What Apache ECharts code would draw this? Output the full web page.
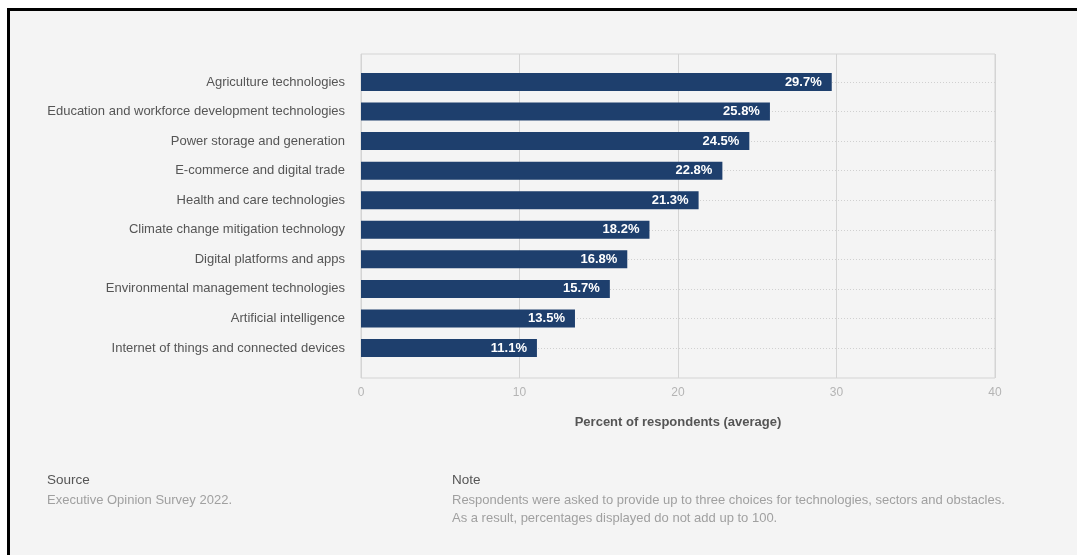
<!DOCTYPE html>
<html>
<head>
<meta charset="utf-8">
<script src="https://cdn.jsdelivr.net/npm/echarts@6/dist/echarts.min.js"></script>
<style>
  html, body { margin: 0; padding: 0; background: #ffffff; }
  #frame {
    position: absolute; left: 7px; top: 8px; width: 1070px; height: 547px;
    border-top: 3px solid #000; border-left: 3px solid #000;
    background: #f4f4f4; box-sizing: border-box;
  }
  #chart { position: absolute; left: 0; top: 0; width: 1077px; height: 555px; }
</style>
</head>
<body>
<div id="frame"></div>
<div id="chart"></div>
<script>
// Technologies ranked by share of respondents
const categories = [
  'Agriculture technologies',
  'Education and workforce development technologies',
  'Power storage and generation',
  'E-commerce and digital trade',
  'Health and care technologies',
  'Climate change mitigation technology',
  'Digital platforms and apps',
  'Environmental management technologies',
  'Artificial intelligence',
  'Internet of things and connected devices'
];
const values = [29.7, 25.8, 24.5, 22.8, 21.3, 18.2, 16.8, 15.7, 13.5, 11.1];
const axisMin = 0, axisMax = 40, axisStep = 10;
const axisTitle = 'Percent of respondents (average)';
const sourceHead = 'Source';
const sourceText = 'Executive Opinion Survey 2022.';
const noteHead = 'Note';
const noteLines = [
  'Respondents were asked to provide up to three choices for technologies, sectors and obstacles.',
  'As a result, percentages displayed do not add up to 100.'
];

const FONT = '"Liberation Sans", Arial, Helvetica, sans-serif';
const chart = echarts.init(document.getElementById('chart'), null, { renderer: 'canvas' });

function footText(x, y, text, color, size) {
  return { type: 'text', x: x, y: y,
    style: { text: text, fill: color, font: size + 'px ' + FONT, verticalAlign: 'middle' } };
}

chart.setOption({
  backgroundColor: 'transparent',
  textStyle: { fontFamily: FONT },
  grid: [
    // outer frame with the vertical gridlines and value axis
    { left: 361, right: 82, top: 54, height: 324, show: true,
      borderColor: '#d4d4d4', borderWidth: 1, backgroundColor: 'transparent' },
    // inner band holding the bars, one row per category
    { left: 361, right: 82, top: 82, height: 266 }
  ],
  xAxis: [
    { type: 'value', gridIndex: 0, min: axisMin, max: axisMax, interval: axisStep,
      axisLine: { show: false }, axisTick: { show: false },
      axisLabel: { color: '#b4b4b4', fontSize: 12, margin: 9, fontFamily: FONT },
      splitLine: { show: true, lineStyle: { color: '#d4d4d4', width: 1 } },
      name: axisTitle, nameLocation: 'middle', nameGap: 38,
      nameTextStyle: { color: '#555', fontSize: 13, fontWeight: 'bold', fontFamily: FONT } },
    { type: 'value', gridIndex: 1, min: axisMin, max: axisMax, interval: axisStep, show: false }
  ],
  yAxis: [
    { type: 'value', gridIndex: 0, show: false },
    { type: 'category', gridIndex: 1, data: categories, inverse: true, boundaryGap: false,
      axisLine: { show: false }, axisTick: { show: false },
      axisLabel: { color: '#555', fontSize: 13, margin: 16, fontFamily: FONT },
      splitLine: { show: true, lineStyle: { color: '#d0d0d0', type: [1, 2], width: 1 } } }
  ],
  series: [{
    type: 'bar', xAxisIndex: 1, yAxisIndex: 1, data: values,
    barWidth: 18, clip: false,
    itemStyle: { color: '#1e3f6d' },
    label: {
      show: true, position: 'insideRight', distance: 10,
      color: '#fff', fontSize: 13, fontWeight: 'bold', fontFamily: FONT,
      formatter: p => p.value.toFixed(1) + '%'
    }
  }],
  graphic: [
    footText(47, 480, sourceHead, '#555', 13.5),
    footText(47, 500, sourceText, '#a0a0a0', 13),
    footText(452, 480, noteHead, '#555', 13.5),
    footText(452, 500, noteLines[0], '#a0a0a0', 13),
    footText(452, 518, noteLines[1], '#a0a0a0', 13)
  ]
});
</script>
</body>
</html>
